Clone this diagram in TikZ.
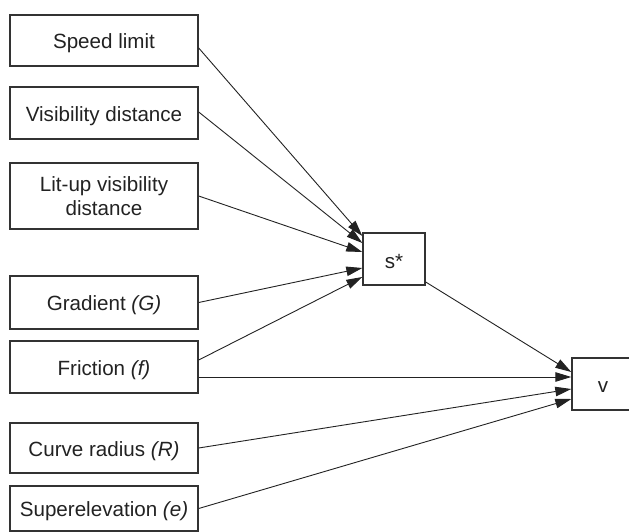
\documentclass[tikz,border=0pt]{standalone}
\usepackage{fontspec}
\setmainfont{Liberation Sans}
\usetikzlibrary{arrows.meta,calc}
\definecolor{txt}{HTML}{222222}
\definecolor{edge}{HTML}{333333}
\newcommand\lowtxt[1]{\raisebox{-3pt}[\height][\depth]{#1}}
\begin{document}
\begin{tikzpicture}[x=1pt,y=-1pt,
  box/.style={draw=edge,line width=1.4pt,rectangle,inner sep=0pt,text=txt,
    font=\fontsize{20.6}{23.5}\selectfont,align=center},
  inbox/.style={box,minimum width=188pt},
  conn/.style={draw=txt,line width=0.9pt,-{Triangle[length=16pt,width=9.5pt]}}]
\clip (0,0) rectangle (629,532);
\node[inbox,minimum height=51pt] (speed) at (104,40.5) {\lowtxt{Speed limit}};
\node[inbox,minimum height=52pt] (vis) at (104,113) {\lowtxt{Visibility distance}};
\node[inbox,minimum height=66pt] (lit) at (104,196) {Lit-up visibility\\distance};
\node[inbox,minimum height=53pt] (grad) at (104,302.5) {\lowtxt{Gradient \textit{(G)}}};
\node[inbox,minimum height=52pt] (fric) at (104,367) {\lowtxt{Friction \textit{(f)}}};
\node[inbox,minimum height=50pt] (curve) at (104,448) {\lowtxt{Curve radius \textit{(R)}}};
\node[inbox,minimum height=45pt] (super) at (104,508.5) {\lowtxt{Superelevation \textit{(e)}}};
\node[box,minimum width=62pt,minimum height=52pt] (s) at (394,259) {\lowtxt{s*}};
\node[box,minimum width=62pt,minimum height=52pt] (v) at (603,384) {\lowtxt{v}};
\draw[conn] ($(speed.east)+(0,7.5)$) -- ($(s.west)+(0,-23)$);
\draw[conn] ($(vis.east)+(0,-1)$) -- ($(s.west)+(0,-16)$);
\draw[conn] (lit.east) -- ($(s.west)+(0,-7)$);
\draw[conn] (grad.east) -- ($(s.west)+(0,9)$);
\draw[conn] ($(fric.east)+(0,-7)$) -- ($(s.west)+(0,18)$);
\draw[conn] ($(fric.east)+(0,10)$) -- ($(v.west)+(0,-7)$);
\draw[conn] ($(s.east)+(0,23)$) -- ($(v.west)+(0,-12)$);
\draw[conn] (curve.east) -- ($(v.west)+(0,5)$);
\draw[conn] (super.east) -- ($(v.west)+(0,15)$);
\end{tikzpicture}
\end{document}
